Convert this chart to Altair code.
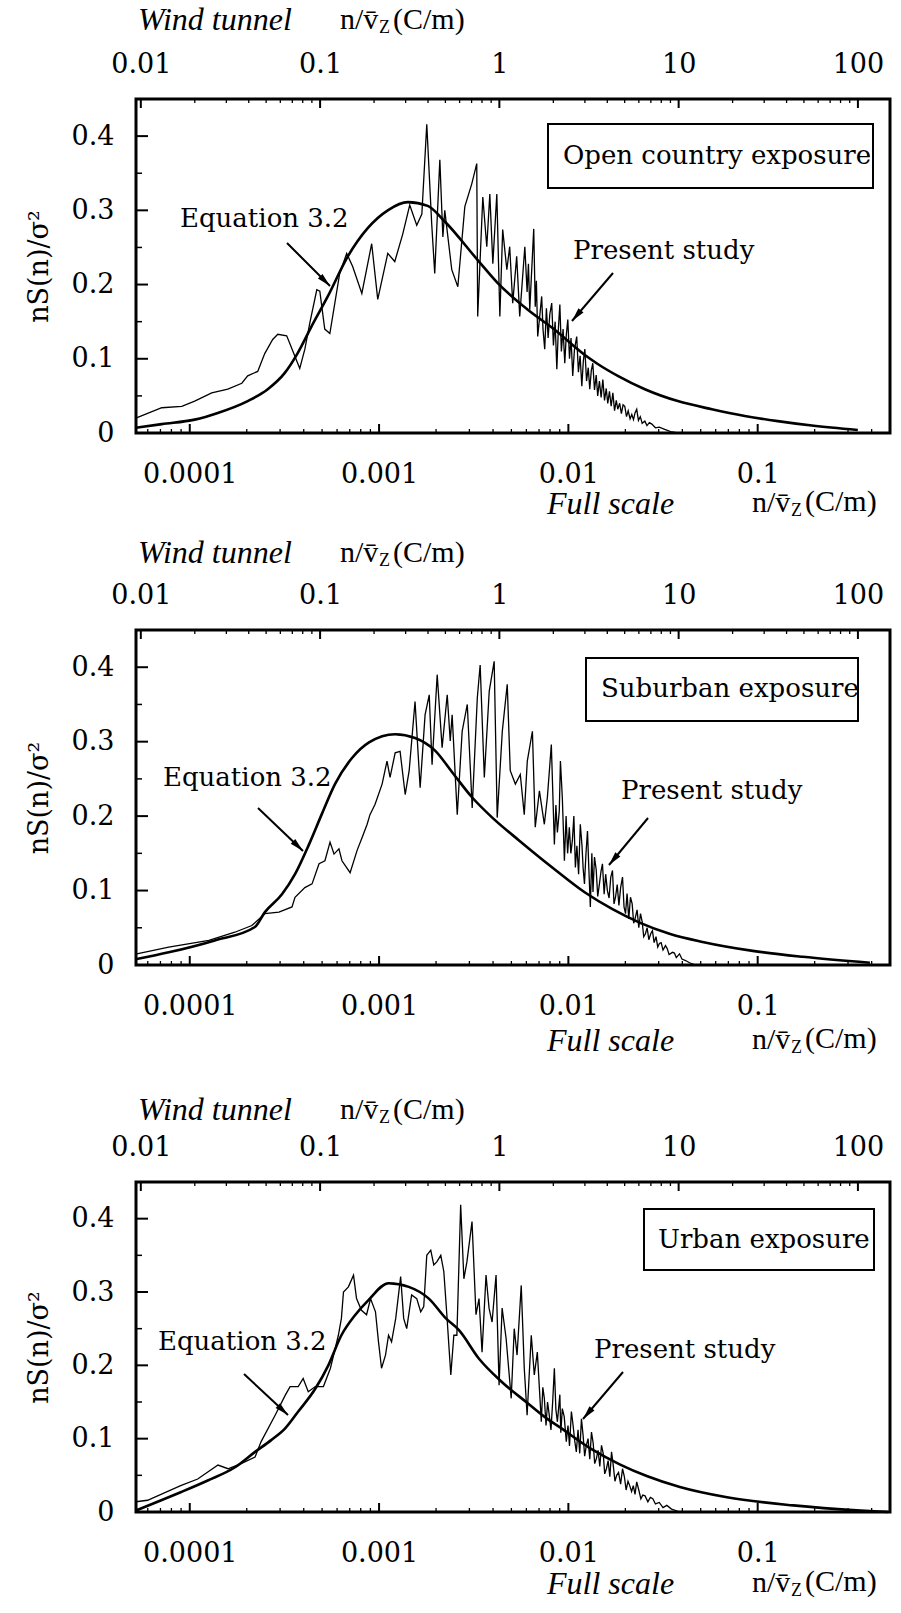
import math
import altair as alt
import pandas as pd

SERIF = "DejaVu Serif"
TIMES = "Liberation Serif"

W = 754
HEIGHTS = [334, 335, 330]
# layout envelope of each panel (left, top, bottom extents around the plot area, px)
LEFT_EXT = [115, 115, 115]
TOP_EXT = [96, 96, 95]
BOTTOM_EXT = [97, 118, 90]
TOP_TITLE_Y = [-79, -77, -72]
BOTTOM_TITLE_Y = [71, 76, 72]

X_BOTTOM = [5.2e-5, 0.5]      # full-scale n/vz (C/m)
X_TOP = [0.0094, 151.0]        # wind-tunnel n/vz (C/m)
Y_DOMAIN = [0, 0.45]

Y_MAJOR = [0, 0.1, 0.2, 0.3, 0.4]
Y_MINOR = [0.05, 0.15, 0.25, 0.35]
BOTTOM_MAJOR = [0.0001, 0.001, 0.01, 0.1]
BOTTOM_MINOR = [6e-5, 7e-5, 8e-5, 9e-5,
                2e-4, 3e-4, 4e-4, 5e-4, 6e-4, 7e-4, 8e-4, 9e-4,
                2e-3, 3e-3, 4e-3, 5e-3, 6e-3, 7e-3, 8e-3, 9e-3,
                0.02, 0.03, 0.04, 0.05, 0.06, 0.07, 0.08, 0.09,
                0.2, 0.3, 0.4]
TOP_MAJOR = [0.01, 0.1, 1, 10, 100]
TOP_MINOR = [0.02, 0.03, 0.04, 0.05, 0.06, 0.07, 0.08, 0.09,
             0.2, 0.3, 0.4, 0.5, 0.6, 0.7, 0.8, 0.9,
             2, 3, 4, 5, 6, 7, 8, 9,
             20, 30, 40, 50, 60, 70, 80, 90]

EXPOSURES = ["Open country exposure", "Suburban exposure", "Urban exposure"]

# ---- data: (log10 of full-scale n/vz, nS(n)/sigma^2) ----
p1_equation = [(-4.285, 0.007), (-4.148, 0.012), (-3.974, 0.018), (-3.852, 0.027), (-3.694, 0.043),
               (-3.588, 0.059), (-3.498, 0.081), (-3.429, 0.108), (-3.356, 0.144), (-3.271, 0.184),
               (-3.165, 0.238), (-3.060, 0.276), (-2.954, 0.300), (-2.848, 0.311), (-2.743, 0.306),
               (-2.653, 0.285), (-2.479, 0.233), (-2.373, 0.202), (-2.214, 0.166), (-2.072, 0.139),
               (-1.913, 0.105), (-1.845, 0.093), (-1.739, 0.077), (-1.596, 0.059), (-1.422, 0.043),
               (-1.242, 0.032), (-1.068, 0.023), (-0.894, 0.016), (-0.714, 0.010), (-0.471, 0.004)]

p1_study = [(-4.285, 0.020), (-4.148, 0.034), (-4.042, 0.036), (-3.974, 0.043), (-3.884, 0.054),
            (-3.799, 0.059), (-3.725, 0.067), (-3.694, 0.077), (-3.641, 0.083), (-3.604, 0.107),
            (-3.562, 0.126), (-3.535, 0.133), (-3.488, 0.131), (-3.472, 0.121), (-3.419, 0.087),
            (-3.392, 0.113), (-3.366, 0.148), (-3.329, 0.193), (-3.313, 0.191), (-3.287, 0.140),
            (-3.260, 0.134), (-3.208, 0.215), (-3.171, 0.242), (-3.139, 0.224), (-3.091, 0.188),
            (-3.039, 0.255), (-3.007, 0.180), (-2.954, 0.242), (-2.917, 0.231), (-2.875, 0.268),
            (-2.838, 0.307), (-2.801, 0.280), (-2.774, 0.295), (-2.748, 0.416), (-2.722, 0.282),
            (-2.706, 0.215), (-2.679, 0.368), (-2.663, 0.264), (-2.653, 0.300), (-2.616, 0.220),
            (-2.584, 0.197), (-2.547, 0.305), (-2.510, 0.336), (-2.484, 0.363), (-2.479, 0.157),
            (-2.452, 0.318), (-2.431, 0.251), (-2.415, 0.322), (-2.399, 0.228), (-2.378, 0.322),
            (-2.362, 0.157), (-2.347, 0.274), (-2.325, 0.220), (-2.310, 0.251), (-2.294, 0.175),
            (-2.273, 0.238), (-2.257, 0.157), (-2.230, 0.251), (-2.218, 0.190), (-2.211, 0.228),
            (-2.204, 0.166), (-2.183, 0.275), (-2.175, 0.170), (-2.169, 0.205), (-2.162, 0.130),
            (-2.141, 0.184), (-2.134, 0.140), (-2.125, 0.113), (-2.116, 0.168), (-2.107, 0.128),
            (-2.098, 0.160), (-2.088, 0.175), (-2.079, 0.118), (-2.070, 0.150), (-2.061, 0.086),
            (-2.053, 0.140), (-2.045, 0.173), (-2.037, 0.110), (-2.028, 0.140), (-2.019, 0.094),
            (-2.011, 0.132), (-2.003, 0.153), (-1.994, 0.100), (-1.986, 0.128), (-1.977, 0.077),
            (-1.968, 0.112), (-1.956, 0.130), (-1.947, 0.082), (-1.938, 0.104), (-1.929, 0.063),
            (-1.921, 0.097), (-1.913, 0.113), (-1.904, 0.070), (-1.895, 0.088), (-1.887, 0.059),
            (-1.879, 0.084), (-1.871, 0.094), (-1.862, 0.058), (-1.853, 0.078), (-1.845, 0.050),
            (-1.836, 0.070), (-1.827, 0.048), (-1.818, 0.072), (-1.809, 0.044), (-1.800, 0.060),
            (-1.792, 0.040), (-1.783, 0.056), (-1.774, 0.036), (-1.765, 0.054), (-1.756, 0.030),
            (-1.747, 0.044), (-1.739, 0.032), (-1.729, 0.040), (-1.720, 0.026), (-1.711, 0.038),
            (-1.702, 0.036), (-1.693, 0.022), (-1.684, 0.030), (-1.674, 0.019), (-1.665, 0.025),
            (-1.656, 0.018), (-1.648, 0.027), (-1.639, 0.032), (-1.630, 0.017), (-1.620, 0.022),
            (-1.610, 0.013), (-1.596, 0.016), (-1.585, 0.010), (-1.572, 0.014), (-1.559, 0.012),
            (-1.540, 0.007), (-1.520, 0.008), (-1.491, 0.005), (-1.460, 0.002), (-1.422, 0.000)]

p2_equation = [(-4.280, 0.008), (-4.111, 0.017), (-3.868, 0.033), (-3.656, 0.051), (-3.603, 0.071),
               (-3.513, 0.095), (-3.444, 0.122), (-3.370, 0.162), (-3.302, 0.203), (-3.233, 0.243),
               (-3.143, 0.278), (-3.053, 0.299), (-2.915, 0.310), (-2.810, 0.305), (-2.704, 0.288),
               (-2.614, 0.259), (-2.508, 0.225), (-2.402, 0.198), (-2.259, 0.167), (-2.085, 0.131),
               (-1.910, 0.097), (-1.767, 0.075), (-1.624, 0.057), (-1.466, 0.042), (-1.291, 0.031),
               (-1.026, 0.019), (-0.762, 0.011), (-0.407, 0.003)]

p2_study = [(-4.280, 0.015), (-4.111, 0.024), (-3.899, 0.033), (-3.762, 0.044), (-3.672, 0.053),
            (-3.603, 0.069), (-3.529, 0.071), (-3.460, 0.078), (-3.444, 0.091), (-3.392, 0.104),
            (-3.354, 0.109), (-3.317, 0.136), (-3.286, 0.140), (-3.259, 0.165), (-3.238, 0.149),
            (-3.212, 0.156), (-3.196, 0.140), (-3.153, 0.124), (-3.116, 0.154), (-3.090, 0.171),
            (-3.063, 0.189), (-3.048, 0.202), (-3.021, 0.216), (-2.984, 0.243), (-2.958, 0.274),
            (-2.942, 0.252), (-2.915, 0.285), (-2.889, 0.287), (-2.862, 0.229), (-2.841, 0.261),
            (-2.810, 0.354), (-2.783, 0.238), (-2.757, 0.336), (-2.735, 0.363), (-2.720, 0.269),
            (-2.693, 0.390), (-2.667, 0.292), (-2.640, 0.363), (-2.624, 0.301), (-2.614, 0.336),
            (-2.587, 0.202), (-2.561, 0.314), (-2.534, 0.350), (-2.508, 0.211), (-2.481, 0.359),
            (-2.466, 0.403), (-2.444, 0.252), (-2.418, 0.368), (-2.392, 0.408), (-2.376, 0.198),
            (-2.349, 0.314), (-2.323, 0.377), (-2.307, 0.261), (-2.280, 0.243), (-2.254, 0.256),
            (-2.233, 0.202), (-2.217, 0.274), (-2.190, 0.314), (-2.175, 0.185), (-2.153, 0.234),
            (-2.127, 0.189), (-2.111, 0.225), (-2.090, 0.296), (-2.074, 0.162), (-2.066, 0.215),
            (-2.058, 0.178), (-2.048, 0.207), (-2.042, 0.274), (-2.032, 0.225), (-2.021, 0.140),
            (-2.012, 0.200), (-2.004, 0.150), (-1.995, 0.185), (-1.987, 0.150), (-1.979, 0.167),
            (-1.971, 0.200), (-1.963, 0.131), (-1.955, 0.160), (-1.946, 0.122), (-1.937, 0.189),
            (-1.928, 0.160), (-1.922, 0.130), (-1.915, 0.109), (-1.907, 0.150), (-1.899, 0.180),
            (-1.892, 0.130), (-1.884, 0.078), (-1.876, 0.150), (-1.870, 0.098), (-1.862, 0.145),
            (-1.853, 0.128), (-1.845, 0.092), (-1.836, 0.109), (-1.828, 0.125), (-1.820, 0.136),
            (-1.811, 0.095), (-1.803, 0.122), (-1.794, 0.100), (-1.785, 0.090), (-1.776, 0.118),
            (-1.767, 0.127), (-1.759, 0.082), (-1.751, 0.091), (-1.742, 0.108), (-1.733, 0.080),
            (-1.724, 0.104), (-1.714, 0.118), (-1.706, 0.078), (-1.698, 0.069), (-1.690, 0.096),
            (-1.681, 0.062), (-1.672, 0.091), (-1.663, 0.082), (-1.655, 0.056), (-1.646, 0.064),
            (-1.637, 0.074), (-1.628, 0.050), (-1.619, 0.069), (-1.610, 0.058), (-1.602, 0.038),
            (-1.593, 0.042), (-1.584, 0.050), (-1.575, 0.034), (-1.565, 0.042), (-1.556, 0.046),
            (-1.547, 0.030), (-1.537, 0.038), (-1.528, 0.024), (-1.519, 0.029), (-1.510, 0.030),
            (-1.500, 0.020), (-1.487, 0.026), (-1.478, 0.022), (-1.468, 0.014), (-1.450, 0.017),
            (-1.440, 0.016), (-1.430, 0.010), (-1.413, 0.015), (-1.400, 0.008), (-1.381, 0.006),
            (-1.360, 0.003), (-1.328, 0.000)]

p3_equation = [(-4.284, 0.002), (-4.170, 0.014), (-4.048, 0.027), (-3.905, 0.043), (-3.761, 0.061),
               (-3.655, 0.082), (-3.570, 0.098), (-3.496, 0.114), (-3.427, 0.137), (-3.337, 0.168),
               (-3.268, 0.200), (-3.199, 0.241), (-3.125, 0.269), (-3.056, 0.289), (-2.950, 0.312),
               (-2.843, 0.307), (-2.737, 0.291), (-2.647, 0.264), (-2.578, 0.248), (-2.472, 0.209),
               (-2.350, 0.177), (-2.223, 0.150), (-2.117, 0.128), (-2.048, 0.116), (-1.873, 0.085),
               (-1.729, 0.065), (-1.586, 0.049), (-1.411, 0.034), (-1.162, 0.020), (-0.812, 0.009),
               (-0.456, 0.002), (-0.313, 0.000)]

p3_study = [(-4.284, 0.014), (-4.223, 0.016), (-4.048, 0.036), (-3.958, 0.045), (-3.851, 0.064),
            (-3.798, 0.059), (-3.729, 0.066), (-3.655, 0.075), (-3.623, 0.096), (-3.549, 0.132),
            (-3.496, 0.159), (-3.470, 0.171), (-3.427, 0.171), (-3.401, 0.182), (-3.374, 0.164),
            (-3.337, 0.171), (-3.294, 0.171), (-3.257, 0.196), (-3.215, 0.241), (-3.199, 0.264),
            (-3.188, 0.300), (-3.162, 0.307), (-3.135, 0.323), (-3.119, 0.291), (-3.093, 0.275),
            (-3.066, 0.269), (-3.045, 0.291), (-3.019, 0.273), (-3.003, 0.232), (-2.987, 0.196),
            (-2.966, 0.214), (-2.950, 0.241), (-2.934, 0.232), (-2.912, 0.264), (-2.886, 0.321),
            (-2.870, 0.264), (-2.854, 0.250), (-2.828, 0.296), (-2.801, 0.291), (-2.780, 0.273),
            (-2.764, 0.280), (-2.748, 0.350), (-2.727, 0.357), (-2.711, 0.337), (-2.695, 0.341),
            (-2.674, 0.350), (-2.658, 0.328), (-2.642, 0.269), (-2.621, 0.187), (-2.605, 0.241),
            (-2.589, 0.241), (-2.569, 0.419), (-2.552, 0.318), (-2.536, 0.341), (-2.509, 0.396),
            (-2.488, 0.269), (-2.472, 0.291), (-2.456, 0.218), (-2.435, 0.323), (-2.419, 0.278),
            (-2.403, 0.259), (-2.382, 0.323), (-2.366, 0.173), (-2.350, 0.278), (-2.329, 0.237),
            (-2.302, 0.155), (-2.286, 0.250), (-2.271, 0.214), (-2.249, 0.309), (-2.233, 0.196),
            (-2.218, 0.132), (-2.196, 0.241), (-2.180, 0.187), (-2.164, 0.218), (-2.143, 0.123),
            (-2.135, 0.170), (-2.127, 0.155), (-2.118, 0.118), (-2.110, 0.150), (-2.101, 0.132),
            (-2.092, 0.112), (-2.083, 0.150), (-2.074, 0.196), (-2.066, 0.140), (-2.058, 0.123),
            (-2.045, 0.160), (-2.040, 0.108), (-2.032, 0.141), (-2.022, 0.130), (-2.011, 0.096),
            (-2.002, 0.118), (-1.994, 0.090), (-1.984, 0.137), (-1.975, 0.118), (-1.967, 0.098),
            (-1.958, 0.082), (-1.949, 0.112), (-1.940, 0.080), (-1.931, 0.127), (-1.922, 0.104),
            (-1.914, 0.076), (-1.905, 0.091), (-1.896, 0.100), (-1.887, 0.072), (-1.878, 0.109),
            (-1.869, 0.094), (-1.861, 0.066), (-1.852, 0.073), (-1.843, 0.084), (-1.834, 0.062),
            (-1.825, 0.091), (-1.816, 0.080), (-1.808, 0.052), (-1.799, 0.059), (-1.790, 0.070),
            (-1.781, 0.048), (-1.772, 0.082), (-1.763, 0.064), (-1.754, 0.042), (-1.745, 0.050),
            (-1.735, 0.054), (-1.724, 0.038), (-1.714, 0.059), (-1.704, 0.048), (-1.695, 0.030),
            (-1.685, 0.042), (-1.676, 0.036), (-1.666, 0.028), (-1.657, 0.036), (-1.648, 0.024),
            (-1.639, 0.041), (-1.628, 0.030), (-1.617, 0.018), (-1.607, 0.023), (-1.595, 0.022),
            (-1.580, 0.014), (-1.567, 0.020), (-1.554, 0.018), (-1.540, 0.011), (-1.520, 0.013),
            (-1.500, 0.006), (-1.480, 0.009), (-1.455, 0.004), (-1.411, 0.000)]

# ---- annotation placement (pixels inside each panel) ----
ANNOT = [
    dict(box=(412, 737, 25, 89), box_text=(427, 57), eq_text=(44, 120), eq_arrow=(151, 144, 194, 187),
         ps_text=(437, 152), ps_arrow=(477, 174, 436, 222)),
    dict(box=(450, 722, 28, 91), box_text=(465, 59), eq_text=(27, 148), eq_arrow=(122, 178, 167, 221),
         ps_text=(485, 161), ps_arrow=(512, 188, 473, 235)),
    dict(box=(508, 738, 27, 88), box_text=(522, 58), eq_text=(22, 160), eq_arrow=(108, 192, 152, 233),
         ps_text=(458, 168), ps_arrow=(487, 190, 447, 237)),
]

ONE = pd.DataFrame({"k": [0]})
ARROW_PATH = "M0,0L-0.32,1.35L0.32,1.35Z"


def txt(text, x, y, font=SERIF, size=26, style="normal", align="left"):
    return alt.Chart(pd.DataFrame({"t": [text]})).mark_text(
        align=align, baseline="middle", font=font, fontSize=size, fontStyle=style, color="black"
    ).encode(x=alt.value(x), y=alt.value(y), text="t:N")


def arrow(x1, y1, x2, y2):
    ang = math.degrees(math.atan2(x2 - x1, -(y2 - y1))) % 360
    line = alt.Chart(ONE).mark_rule(color="black", strokeWidth=2).encode(
        x=alt.value(x1), y=alt.value(y1), x2=alt.value(x2), y2=alt.value(y2))
    head = alt.Chart(ONE).mark_point(shape=ARROW_PATH, filled=True, size=420, angle=ang,
                                     color="black", opacity=1, strokeWidth=0).encode(
        x=alt.value(x2), y=alt.value(y2))
    return [line, head]


def panel(idx, equation, study):
    H = HEIGHTS[idx]
    a = ANNOT[idx]
    study = sorted(study)
    eq = pd.DataFrame({"f": [10 ** p[0] for p in equation], "v": [p[1] for p in equation],
                       "i": list(range(len(equation)))})
    ps = pd.DataFrame({"f": [10 ** p[0] for p in study], "v": [p[1] for p in study],
                       "i": list(range(len(study)))})
    xb = alt.Scale(type="log", domain=X_BOTTOM)
    xt = alt.Scale(type="log", domain=X_TOP)
    ys = alt.Scale(domain=Y_DOMAIN)
    common = dict(labelFont=SERIF, labelFontSize=27, labelColor="black", ticks=False, tickSize=0,
                  domain=False, grid=False, labelOverlap=False, labelFlush=False, labelBound=False)
    x_axis = alt.Axis(orient="bottom", values=BOTTOM_MAJOR, format="~g", labelPadding=41,
                      labelBaseline="middle", title=None, **common)
    top_axis = alt.Axis(orient="top", values=TOP_MAJOR, format="~g", labelPadding=35,
                        labelBaseline="middle", title=None, **common)
    y_axis = alt.Axis(values=Y_MAJOR, format="~g", labelPadding=22, title="nS(n)/σ²",
                      titleFont=SERIF, titleFontSize=27, titleFontWeight="normal", titleColor="black",
                      titleX=-97, titleY=H / 2, titleAngle=270, titleAlign="center",
                      titleBaseline="middle", **common)

    def Y(field):
        return alt.Y(field, scale=ys, axis=y_axis)

    ty = TOP_TITLE_Y[idx]
    by = H + BOTTOM_TITLE_Y[idx]

    layers = []
    # invisible envelope that fixes this panel's place in the column
    layers.append(alt.Chart(ONE).mark_rule(color="white", strokeWidth=1).encode(
        x=alt.value(-LEFT_EXT[idx]), x2=alt.value(-LEFT_EXT[idx]),
        y=alt.value(-TOP_EXT[idx]), y2=alt.value(H + BOTTOM_EXT[idx])))
    layers.append(alt.Chart(eq).mark_line(color="black", strokeWidth=2.6, interpolate="monotone").encode(
        x=alt.X("f:Q", scale=xb, axis=x_axis), y=Y("v:Q"), order="i:Q"))
    layers.append(alt.Chart(ps).mark_line(color="black", strokeWidth=1.3).encode(
        x=alt.X("f:Q", scale=xb, axis=None), y=Y("v:Q"), order="i:Q"))
    # inward ticks
    layers.append(alt.Chart(pd.DataFrame({"v": Y_MAJOR})).mark_rule(color="black", strokeWidth=2).encode(
        y=Y("v:Q"), x=alt.value(0), x2=alt.value(12)))
    layers.append(alt.Chart(pd.DataFrame({"v": Y_MINOR})).mark_rule(color="black", strokeWidth=1.5).encode(
        y=Y("v:Q"), x=alt.value(0), x2=alt.value(6)))
    layers.append(alt.Chart(pd.DataFrame({"f": BOTTOM_MAJOR})).mark_rule(color="black", strokeWidth=2).encode(
        x=alt.X("f:Q", scale=xb, axis=None), y=alt.value(H), y2=alt.value(H - 9)))
    layers.append(alt.Chart(pd.DataFrame({"f": BOTTOM_MINOR})).mark_rule(color="black", strokeWidth=1.3).encode(
        x=alt.X("f:Q", scale=xb, axis=None), y=alt.value(H), y2=alt.value(H - 4)))
    layers.append(alt.Chart(pd.DataFrame({"f": TOP_MAJOR})).mark_rule(color="black", strokeWidth=2).encode(
        x=alt.X("f:Q", scale=xt, axis=top_axis), y=alt.value(0), y2=alt.value(9)))
    layers.append(alt.Chart(pd.DataFrame({"f": TOP_MINOR})).mark_rule(color="black", strokeWidth=1.3).encode(
        x=alt.X("f:Q", scale=xt, axis=None), y=alt.value(0), y2=alt.value(4)))

    # exposure box
    bx = a["box"]
    layers.append(alt.Chart(ONE).mark_rect(fill="white", stroke="black", strokeWidth=2).encode(
        x=alt.value(bx[0]), x2=alt.value(bx[1]), y=alt.value(bx[2]), y2=alt.value(bx[3])))
    layers.append(txt(EXPOSURES[idx], a["box_text"][0], a["box_text"][1]))
    # curve labels and arrows
    layers.append(txt("Equation 3.2", a["eq_text"][0], a["eq_text"][1]))
    layers += arrow(*a["eq_arrow"])
    layers.append(txt("Present study", a["ps_text"][0], a["ps_text"][1]))
    layers += arrow(*a["ps_arrow"])

    # axis titles (top: wind tunnel, bottom: full scale)
    layers.append(txt("Wind tunnel", 2, ty, font=TIMES, size=32, style="italic"))
    layers.append(txt("n/v\u0304", 204, ty, font=TIMES, size=30))
    layers.append(txt("Z", 243, ty + 8, font=TIMES, size=18))
    layers.append(txt("(C/m)", 257, ty, font=TIMES, size=30))
    layers.append(txt("Full scale", 411, by, font=TIMES, size=32, style="italic"))
    layers.append(txt("n/v\u0304", 616, by - 1, font=TIMES, size=30))
    layers.append(txt("Z", 655, by + 7, font=TIMES, size=18))
    layers.append(txt("(C/m)", 669, by - 2, font=TIMES, size=30))

    return alt.layer(*layers).resolve_scale(x="independent").properties(width=W, height=H)


p1 = panel(0, p1_equation, p1_study)
p2 = panel(1, p2_equation, p2_study)
p3 = panel(2, p3_equation, p3_study)

chart = alt.vconcat(p1, p2, p3, spacing=0).properties(
    padding={"left": 19, "top": 1, "right": 2, "bottom": 0},
    background="white",
).configure_view(stroke="black", strokeWidth=3)

chart.save("out.html", embed_options={"renderer": "svg", "actions": False})
